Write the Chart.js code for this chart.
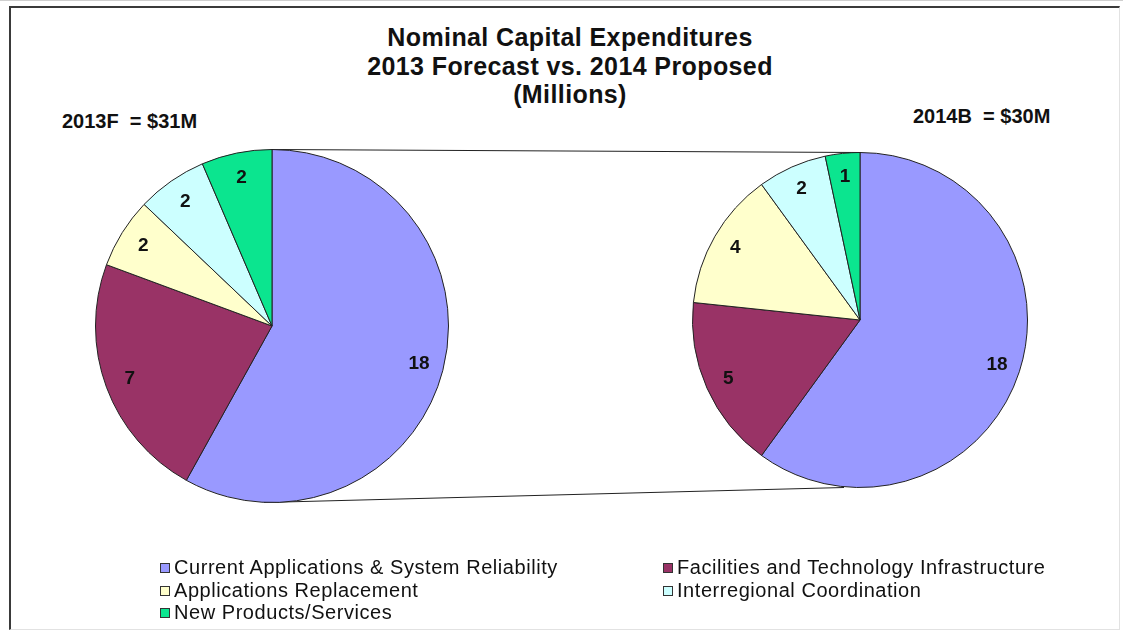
<!DOCTYPE html>
<html>
<head>
<meta charset="utf-8">
<script src="https://cdn.jsdelivr.net/npm/chart.js@4/dist/chart.umd.min.js"></script>
<style>
  body { margin: 0; width: 1123px; height: 634px; background: #fff; overflow: hidden; position: relative;
         font-family: "Liberation Sans", Arial, sans-serif; color: #111; }
  #topline { position: absolute; left: 0; top: 0; width: 1123px; height: 1px; background: #cfcfcf; }
  #frame { position: absolute; left: 9px; top: 6px; width: 1108px; height: 621px;
           border-top: 2px solid #3a3a3a; border-left: 2px solid #3a3a3a;
           border-right: 1px solid #e2e2e2; border-bottom: 1px solid #e2e2e2; }
  #title { position: absolute; left: 320px; width: 500px; top: 23px; text-align: center;
           font-weight: bold; font-size: 25px; line-height: 28.5px; letter-spacing: 0.4px; }
  .total { position: absolute; font-weight: bold; font-size: 20px; white-space: pre; }
  canvas { position: absolute; }
  #legend { position: absolute; left: 160px; top: 556px; width: 920px; }
  .item { position: absolute; font-size: 20px; line-height: 22px; white-space: nowrap; letter-spacing: 0.55px; }
  .item span.box { display: inline-block; width: 8px; height: 8px; border: 1px solid #333;
                   margin-right: 4px; vertical-align: 1px; }
</style>
</head>
<body>
<div id="topline"></div>
<div id="frame"></div>
<div id="title">Nominal Capital Expenditures<br>2013 Forecast vs. 2014 Proposed<br>(Millions)</div>
<div class="total" id="total2013" style="left:62px; top:110px;"></div>
<div class="total" id="total2014" style="left:913px; top:105px;"></div>
<canvas id="links" width="1123" height="634" style="left:0; top:0;"></canvas>
<canvas id="pie2013" width="360" height="360" style="left:92px; top:146px;"></canvas>
<canvas id="pie2014" width="342" height="342" style="left:689px; top:149px;"></canvas>
<div id="legend"></div>

<script>
  // categories and values (millions)
  var categories = [
    "Current Applications & System Reliability",
    "Facilities and  Technology Infrastructure",
    "Applications Replacement",
    "Interregional Coordination",
    "New Products/Services"
  ];
  var forecast2013 = [18, 7, 2, 2, 2];
  var budget2014 = [18, 5, 4, 2, 1];
  var seriesNames = ["2013F", "2014B"];

  var colors = ["#9999ff", "#993366", "#ffffcc", "#ccffff", "#0be58f"];

  function sum(arr) {
    return arr.reduce(function(a, b) { return a + b; }, 0);
  }

  document.getElementById("total2013").textContent = seriesNames[0] + "  = $" + sum(forecast2013) + "M";
  document.getElementById("total2014").textContent = seriesNames[1] + "  = $" + sum(budget2014) + "M";

  // value labels inside each slice
  var sliceLabels = {
    id: 'sliceLabels',
    afterDatasetsDraw: function(chart) {
      var ctx = chart.ctx;
      var meta = chart.getDatasetMeta(0);
      var values = chart.data.datasets[0].data;
      ctx.save();
      ctx.font = 'bold 19px "Liberation Sans", Arial, sans-serif';
      ctx.fillStyle = '#111';
      ctx.textAlign = 'center';
      ctx.textBaseline = 'middle';
      meta.data.forEach(function(arc, i) {
        var mid = (arc.startAngle + arc.endAngle) / 2;
        var r = arc.outerRadius * 0.86;
        ctx.fillText(String(Math.round(values[i])), arc.x + Math.cos(mid) * r, arc.y + Math.sin(mid) * r);
      });
      ctx.restore();
    }
  };

  function makePie(id, values) {
    var ctx = document.getElementById(id).getContext("2d");
    return new Chart(ctx, {
      type: 'pie',
      data: {
        labels: categories,
        datasets: [{
          data: values,
          backgroundColor: colors,
          borderColor: "#222",
          borderWidth: 1
        }]
      },
      options: {
        responsive: false,
        animation: false,
        layout: { padding: 3 },
        plugins: {
          legend: { display: false },
          tooltip: { enabled: false }
        }
      },
      plugins: [sliceLabels]
    });
  }

  var left = makePie("pie2013", forecast2013);
  var right = makePie("pie2014", budget2014);

  // lines joining the two pies, top to top and bottom to bottom
  function pieGeom(chart) {
    var arc = chart.getDatasetMeta(0).data[0];
    var canvas = chart.canvas;
    return { x: canvas.offsetLeft + arc.x, y: canvas.offsetTop + arc.y, r: arc.outerRadius };
  }
  var a = pieGeom(left), b = pieGeom(right);
  var lctx = document.getElementById("links").getContext("2d");
  lctx.strokeStyle = "#222";
  lctx.lineWidth = 1.2;
  lctx.beginPath();
  lctx.moveTo(a.x, a.y - a.r);
  lctx.lineTo(b.x, b.y - b.r);
  lctx.moveTo(a.x - 8, a.y + a.r);
  lctx.lineTo(b.x - 16, b.y + b.r);
  lctx.stroke();

  // legend built from categories and colours
  var legend = document.getElementById("legend");
  var colX = [0, 503];
  categories.forEach(function(name, i) {
    var div = document.createElement("div");
    div.className = "item";
    div.style.left = colX[i % 2] + "px";
    div.style.top = (Math.floor(i / 2) * 22.5) + "px";
    var box = document.createElement("span");
    box.className = "box";
    box.style.background = colors[i];
    div.appendChild(box);
    div.appendChild(document.createTextNode(name));
    legend.appendChild(div);
  });
</script>
</body>
</html>
